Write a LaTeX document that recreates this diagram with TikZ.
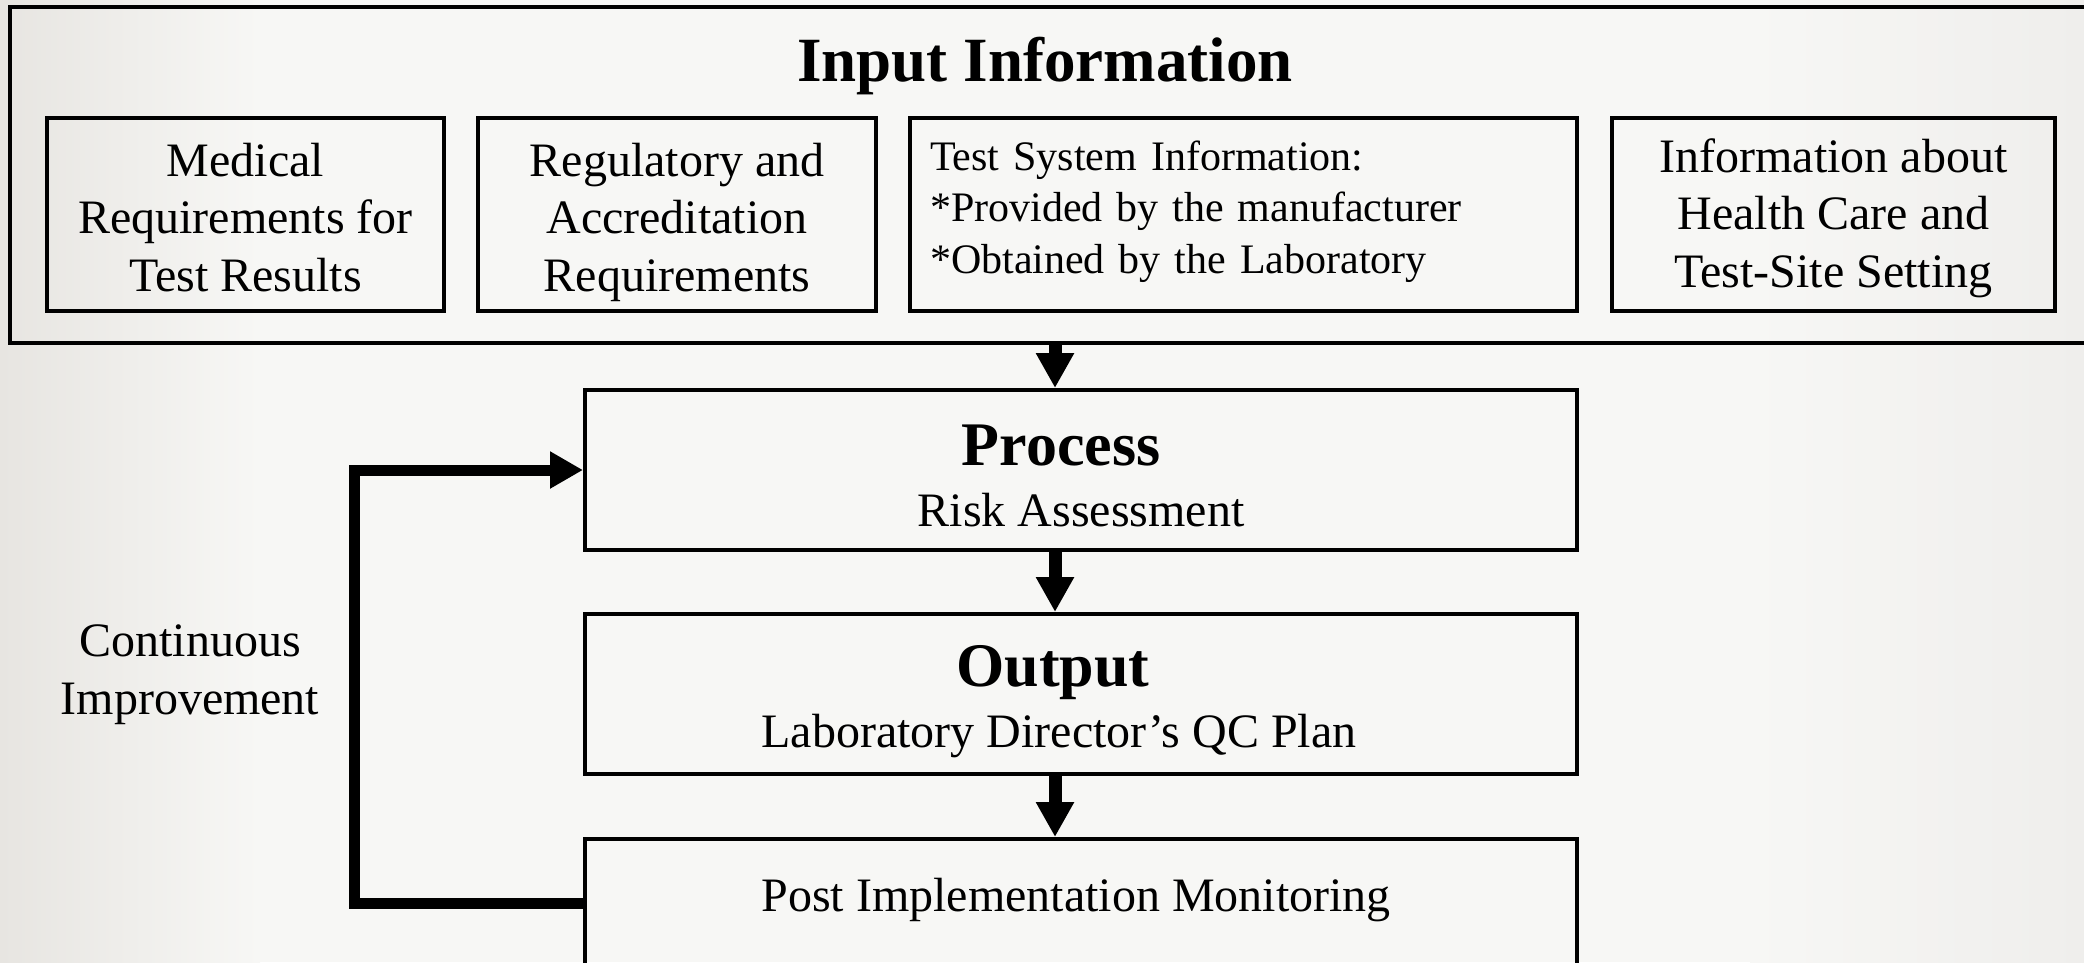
\documentclass[tikz,border=0pt]{standalone}
\usepackage{fontspec}
\setmainfont{Liberation Serif}
\usetikzlibrary{arrows.meta}

\definecolor{bgmain}{HTML}{F7F7F5}
\definecolor{bgleft}{HTML}{E7E5E1}
\definecolor{bgright}{HTML}{EFEEEC}

\newcommand{\bodyfont}{\fontsize{48}{57.6}\selectfont}
\newcommand{\smallbody}{\fontsize{42}{51.5}\selectfont}
\newcommand{\headfont}{\fontsize{62}{74}\selectfont\bfseries}
\newcommand{\titlefont}{\fontsize{63}{76}\selectfont\bfseries}

\tikzset{
    inputbox/.style={draw,line width=4pt,minimum height=193pt,align=center,inner sep=0pt,
        text height=155.2pt,text depth=1.8pt,font=\bodyfont},
    stagebox/.style={draw,line width=4pt,minimum width=992pt,minimum height=160pt,align=center,inner sep=0pt,font=\bodyfont},
    flowarrow/.style={line width=13pt,-{Triangle[width=36pt,length=35pt]}},
    feedback/.style={line width=11pt,-{Triangle[width=35pt,length=33pt]}}
}

\begin{document}
\begin{tikzpicture}[x=1pt,y=-1pt]
    % Background
    \useasboundingbox (0,0) rectangle (2084,962);
    \fill[bgmain] (0,0) rectangle (2084,962);
    \shade[left color=bgleft,right color=bgmain] (0,0) rectangle (260,962);
    \shade[left color=bgmain,right color=bgright] (1750,0) rectangle (2084,962);

    % Input information
    \node[draw,line width=4pt,minimum width=2080pt,minimum height=336pt,inner sep=0pt] (input) at (1050,175) {};
    \node[font=\titlefont,anchor=base] (inputtitle) at (1045,81) {Input Information};

    \node[inputbox,minimum width=397pt] (medical) at (245.5,214.5) {Medical\\Requirements for\\Test Results};
    \node[inputbox,minimum width=398pt] (regulatory) at (677,214.5) {Regulatory and\\Accreditation\\Requirements};
    \node[inputbox,text width=627pt,inner xsep=20pt,align=left,font=\smallbody,text height=28pt,text depth=117pt] (testsystem) at (1243.5,214.5) {Test System Information:\\{*}Provided by the manufacturer\\{*}Obtained by the Laboratory};
    \node[inputbox,minimum width=443pt,text depth=9.8pt] (healthcare) at (1833.5,214.5) {Information about\\Health Care and\\Test-Site Setting};

    % Stages
    \node[stagebox,text height=112pt,text depth=0pt] (process) at (1081,470) {\hspace*{-40pt}{\headfont Process}\\[3.4pt]Risk Assessment};
    \node[stagebox,text height=106pt,text depth=0pt] (output) at (1081,694) {\hspace*{-56pt}{\headfont Output}\\[3.4pt]\hspace*{-44pt}Laboratory Director’s QC Plan};
    \node[stagebox,minimum height=128pt,text height=33pt,text depth=17pt] (post) at (1081,903) {\hspace*{-10pt}Post Implementation Monitoring};

    % Flow arrows
    \coordinate (spine) at (1055,0);
    \draw[flowarrow] (input.south -| spine) -- (process.north -| spine);
    \draw[flowarrow] (process.south -| spine) -- (output.north -| spine);
    \draw[flowarrow] (output.south -| spine) -- (post.north -| spine);

    % Continuous improvement loop
    \coordinate (loopx) at (354,0);
    \draw[feedback] (post.west) -- (post.west -| loopx) |- (process.west);
    \node[font=\bodyfont,align=center] (improve) at (190,675) {Continuous\\Improvement};
\end{tikzpicture}
\end{document}
